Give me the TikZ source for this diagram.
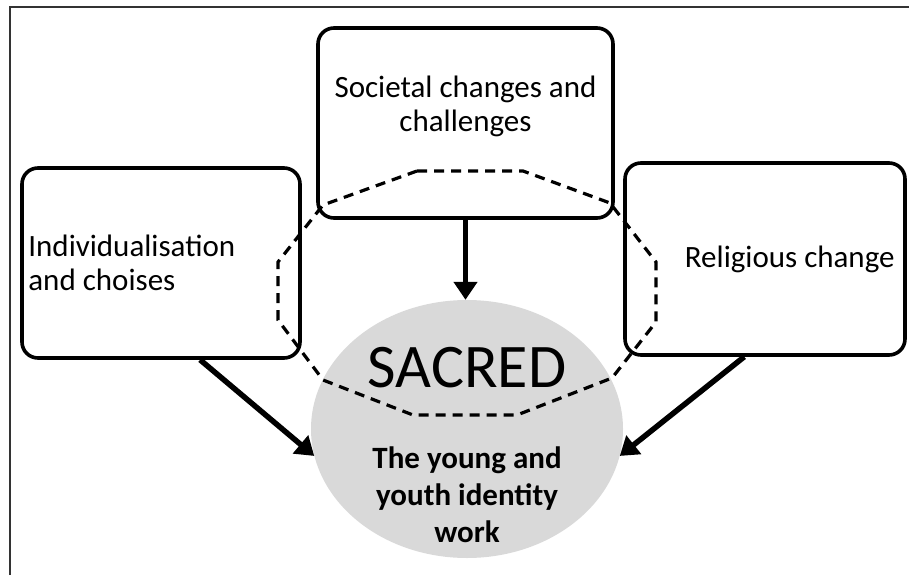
\documentclass[tikz,border=0pt]{standalone}
\usepackage{fontspec}
\setmainfont{Carlito}
\usepackage{tikz}
\usetikzlibrary{%
  positioning
 ,arrows.meta
 ,shapes.geometric
 ,calc
}
\tikzstyle{frame}=[line width=2pt,draw=black!80]
\tikzstyle{box}=[draw=black,line width=3.6pt,rounded corners=16pt,fill=white]
\tikzstyle{core}=[ellipse,fill=black!15,minimum width=312pt,minimum height=258pt]
\tikzstyle{txt}=[font=\fontsize{31}{34}\selectfont,inner sep=0pt]
\tikzstyle{zone}=[line width=3.2pt,dash pattern=on 10pt off 7pt]
\tikzstyle{infl}=[line width=5.5pt,-{Triangle[length=18pt,width=23pt]}]

\begin{document}
\begin{tikzpicture}[x=1pt,y=-1pt]
  \useasboundingbox (0,0) rectangle (909,575);
  \coordinate (fb) at (9.5,575);
  \coordinate (fc) at (909,7.5);
  \draw[frame] (fb) |- (fc);
% boxes and core
  \node[box,minimum width=278pt,minimum height=190pt] (indiv) at (161,263) {};
  \node[box,minimum width=295pt,minimum height=190pt] (soc)   at (465.5,123) {};
  \node[box,minimum width=280pt,minimum height=192pt] (relig) at (765,259) {};
  \node[core] (sac) at (467,429) {};
% dashed zone
  \draw[zone] (417,171) -- (523,171) -- (610,203) -- (656,262) -- (656,322)
    -- (612,378) -- (517,415) -- (413,415) -- (323,380) -- (278,320)
    -- (278,262) -- (323,205) -- cycle;
% influences
  \draw[infl] (soc.south) -- (soc.south |- sac.north);
  \draw[infl] (indiv.-68) -- (sac.190);
  \draw[infl] (relig.-102) -- (sac.-10);
% texts
  \node[txt,align=left] (indivtxt) [right=8pt of indiv.west] {Individualisation\\and choises};
  \node[txt,align=center] (soctxt) at ([yshift=17pt]soc.center) {Societal changes and\\challenges};
  \node[txt] (religtxt) [left=12pt of relig.east] {Religious change};
  \node[txt,font=\fontsize{62}{62}\selectfont] (sacred) at ([yshift=61pt]sac.center) {SACRED};
  \node[txt,align=center,font=\bfseries\fontsize{31}{37}\selectfont] (young)
    at ([yshift=-66pt]sac.center) {The young and\\youth identity\\work};
\end{tikzpicture}
\end{document}
